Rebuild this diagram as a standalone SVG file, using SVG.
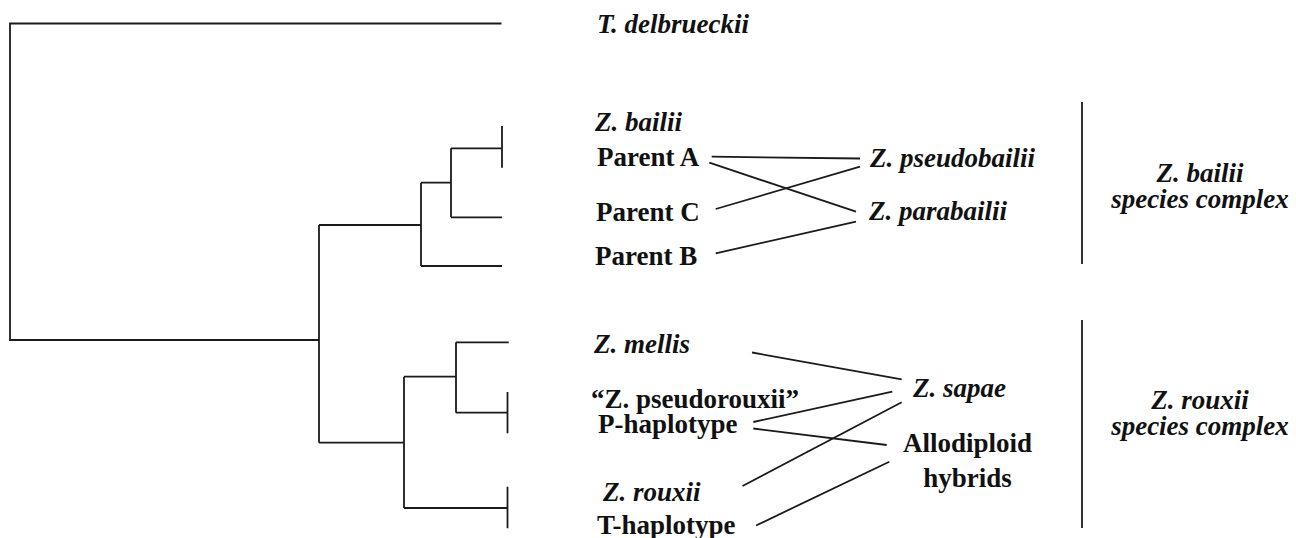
<svg xmlns="http://www.w3.org/2000/svg" width="1296" height="538" viewBox="0 0 1296 538">
<style>
.t{font-family:"Liberation Serif","Times New Roman",serif;font-size:27px;font-weight:bold;fill:#111}
.i{font-style:italic}
.ln{stroke:#1a1a1a;stroke-width:1.8;fill:none;stroke-linecap:butt}
</style>
<rect width="1296" height="538" fill="#fff"/>
<g id="tree" class="ln">
<path d="M501.5,23.5 H10 V340 H319"/>
<path d="M319,225 V442.7"/>
<path d="M319,225 H421 M421,182.7 V266 M421,266 H502 M421,182.7 H451 M451,148.3 V217.3 M451,148.3 H502 M451,217.3 H502 M502,126 V167.7"/>
<path d="M319,442.7 H404 M404,376.7 V508 M404,376.7 H456 M456,342.3 V412.7 M456,342.3 H508.7 M456,412.7 H507.5 M507.5,392 V433.3 M404,508 H507.5 M507.5,486.7 V528.3"/>
</g>
<g id="connectors" class="ln">
<line x1="711.7" y1="156.7" x2="860" y2="158.5"/>
<line x1="709.3" y1="162.7" x2="856" y2="211.7"/>
<line x1="715.7" y1="209" x2="860" y2="166.7"/>
<line x1="715.7" y1="253.3" x2="856" y2="221.7"/>
<line x1="752" y1="352.5" x2="901.7" y2="379.3"/>
<line x1="753.3" y1="422" x2="892.3" y2="391.7"/>
<line x1="753.3" y1="428.5" x2="886.7" y2="445"/>
<line x1="742.5" y1="486" x2="901.7" y2="402.3"/>
<line x1="756" y1="525.5" x2="889.3" y2="461.7"/>
<line x1="1082" y1="102" x2="1082" y2="264"/>
<line x1="1082" y1="320" x2="1082" y2="528"/>
</g>
<g id="n-delbrueckii"><text class="t i" x="597" y="33">T. delbrueckii</text></g>
<g id="n-bailii"><text class="t i" x="595" y="131">Z. bailii</text><text class="t" x="597" y="166">Parent A</text></g>
<g id="n-parentC"><text class="t" x="596" y="221">Parent C</text></g>
<g id="n-parentB"><text class="t" x="595" y="265">Parent B</text></g>
<g id="n-pseudobailii"><text class="t i" x="870" y="167">Z. pseudobailii</text></g>
<g id="n-parabailii"><text class="t i" x="869" y="220">Z. parabailii</text></g>
<g id="n-mellis"><text class="t i" x="594" y="353">Z. mellis</text></g>
<g id="n-pseudorouxii"><text class="t" x="591" y="408">“Z. pseudorouxii”</text><text class="t" x="598" y="433">P-haplotype</text></g>
<g id="n-rouxii"><text class="t i" x="603" y="501">Z. rouxii</text><text class="t" x="597" y="534">T-haplotype</text></g>
<g id="n-sapae"><text class="t i" x="913" y="397">Z. sapae</text></g>
<g id="n-hybrids"><text class="t" x="967.5" y="452" text-anchor="middle">Allodiploid</text><text class="t" x="967.5" y="487" text-anchor="middle">hybrids</text></g>
<g id="n-bailii-complex"><text class="t i" x="1200" y="182" text-anchor="middle">Z. bailii</text><text class="t i" x="1200" y="208" text-anchor="middle">species complex</text></g>
<g id="n-rouxii-complex"><text class="t i" x="1200" y="409" text-anchor="middle">Z. rouxii</text><text class="t i" x="1200" y="435" text-anchor="middle">species complex</text></g>
</svg>
